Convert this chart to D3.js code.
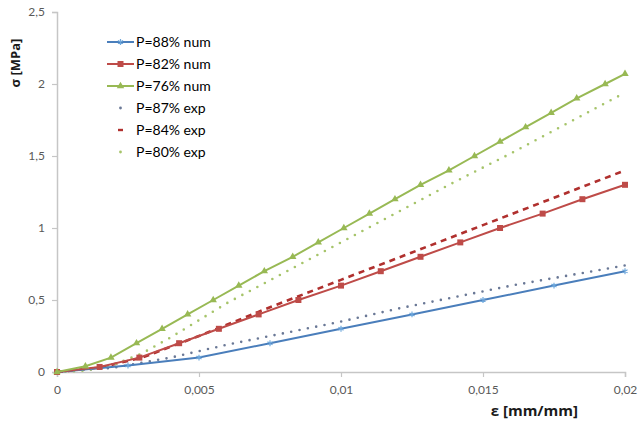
<!DOCTYPE html>
<html>
<head>
<meta charset="utf-8">
<script src="https://cdn.jsdelivr.net/npm/d3@7"></script>
<style>
  body { margin: 0; background: #fff; }
  svg { display: block; }
</style>
</head>
<body>
<svg id="chart"></svg>
<script>
// ---- data ----
const xTicks = [0, 0.005, 0.01, 0.015, 0.02];
const yTicks = [0, 0.5, 1, 1.5, 2, 2.5];

// P=88% num (blue, star markers)
const blueNumX = [0, 0.0025, 0.005, 0.0075, 0.01, 0.0125, 0.015, 0.0175, 0.02];
const blueNumY = [0, 0.045, 0.1, 0.2, 0.3, 0.4, 0.5, 0.6, 0.7];

// P=82% num (red, square markers)
const redNumX = [0, 0.0015, 0.0029, 0.0043, 0.0057, 0.0071, 0.0085, 0.0100, 0.0114, 0.0128, 0.0142, 0.0156, 0.0171, 0.0185, 0.0200];
const redNumY = [0, 0.035, 0.1, 0.2, 0.3, 0.4, 0.5, 0.6, 0.7, 0.8, 0.9, 1.0, 1.1, 1.2, 1.3];

// P=76% num (green, triangle markers)
const greenNumX = [0, 0.001, 0.0019, 0.0028, 0.0037, 0.0046, 0.0055, 0.0064, 0.0073, 0.0083, 0.0092, 0.0101,
  0.0110, 0.0119, 0.0128, 0.0138, 0.0147, 0.0156, 0.0165, 0.0174, 0.0183, 0.0193, 0.0200];
const greenNumY = [0, 0.04, 0.1, 0.2, 0.3, 0.4, 0.5, 0.6, 0.7, 0.8, 0.9, 1.0,
  1.1, 1.2, 1.3, 1.4, 1.5, 1.6, 1.7, 1.8, 1.9, 2.0, 2.07];

// P=87% exp (grey-blue dots)
const blueExpX = [0, 0.002, 0.004, 0.006, 0.008, 0.01, 0.012, 0.014, 0.016, 0.018, 0.02];
const blueExpY = [0, 0.03, 0.1, 0.19, 0.27, 0.35, 0.44, 0.52, 0.6, 0.67, 0.74];

// P=84% exp (red dashes)
const redExpX = [0, 0.0015, 0.003, 0.005, 0.0075, 0.01, 0.0125, 0.015, 0.0175, 0.02];
const redExpY = [0, 0.03, 0.1, 0.25, 0.45, 0.64, 0.83, 1.02, 1.21, 1.40];

// P=80% exp (green dots)
const greenExpX = [0, 0.001, 0.002, 0.003, 0.004, 0.006, 0.008, 0.01, 0.012, 0.014, 0.016, 0.018, 0.02];
const greenExpY = [0, 0.01, 0.05, 0.13, 0.24, 0.48, 0.69, 0.9, 1.11, 1.32, 1.52, 1.73, 1.94];

const series = [
  { name: "P=88% num", xs: blueNumX, ys: blueNumY, color: "#4a7ebb", marker: "star", kind: "num" },
  { name: "P=82% num", xs: redNumX, ys: redNumY, color: "#be4b48", marker: "square", kind: "num" },
  { name: "P=76% num", xs: greenNumX, ys: greenNumY, color: "#98b954", marker: "triangle", kind: "num" },
  { name: "P=87% exp", xs: blueExpX, ys: blueExpY, color: "#6a7896", kind: "dot" },
  { name: "P=84% exp", xs: redExpX, ys: redExpY, color: "#b0302e", kind: "dash" },
  { name: "P=80% exp", xs: greenExpX, ys: greenExpY, color: "#a6c46a", kind: "dot" }
];

const width = 638, height = 429;
const margin = { left: 57, right: 13, top: 12, bottom: 57 };

const svg = d3.select("#chart").attr("width", width).attr("height", height);

const x = d3.scaleLinear().domain([0, 0.02]).range([margin.left, width - margin.right]);
const y = d3.scaleLinear().domain([0, 2.5]).range([height - margin.bottom, margin.top]);

const fmt = d => d3.format("")(d).replace(".", ",");
const axisColor = "#c6c6c6";
const labelColor = "#595959";
const font = "Lato, 'Open Sans', sans-serif";
const boldFont = "'Open Sans', 'DejaVu Sans', sans-serif";

// x axis
const gx = svg.append("g")
  .attr("transform", `translate(0,${y(0)})`)
  .call(d3.axisBottom(x).tickValues(xTicks).tickFormat(fmt).tickSize(5).tickPadding(8));
// y axis
const gy = svg.append("g")
  .attr("transform", `translate(${x(0)},0)`)
  .call(d3.axisLeft(y).tickValues(yTicks).tickFormat(fmt).tickSize(5).tickPadding(7));

[gx, gy].forEach(g => {
  g.select(".domain").attr("stroke", axisColor).attr("stroke-width", 1.5);
  g.selectAll(".tick line").attr("stroke", axisColor).attr("stroke-width", 1.2);
  g.selectAll(".tick text").attr("fill", labelColor).style("font", `12px ${font}`);
});

// axis titles
svg.append("text")
  .attr("x", 578).attr("y", 416)
  .attr("text-anchor", "end")
  .style("font", `bold 15px ${boldFont}`).attr("fill", "#1a1a1a")
  .text("ε [mm/mm]");
svg.append("text")
  .attr("transform", "translate(20,63) rotate(-90)")
  .attr("text-anchor", "middle")
  .style("font", `bold 13px ${boldFont}`).attr("fill", "#1a1a1a")
  .text("σ [MPa]");

const line = d3.line().x(d => x(d[0])).y(d => y(d[1]));
const plot = svg.append("g");

function drawMarker(g, type, color, px, py) {
  if (type === "square") {
    g.append("rect").attr("x", px - 3).attr("y", py - 3).attr("width", 6).attr("height", 6).attr("fill", color);
  } else if (type === "triangle") {
    g.append("path").attr("d", d3.symbol(d3.symbolTriangle, 24)()).attr("transform", `translate(${px},${py})`).attr("fill", color);
  } else if (type === "star") {
    g.append("path").attr("d", d3.symbol(d3.symbolAsterisk, 24)()).attr("transform", `translate(${px},${py})`)
      .attr("stroke", "#6fa8dc").attr("stroke-width", 1.2).attr("fill", "none");
  }
}

// draw exp series first, num series on top
series.filter(s => s.kind !== "num").forEach(s => {
  const pts = s.xs.map((v, i) => [v, s.ys[i]]);
  const p = plot.append("path").datum(pts).attr("d", line).attr("fill", "none").attr("stroke", s.color);
  if (s.kind === "dot") {
    p.attr("stroke-width", 2.6).attr("stroke-linecap", "round").attr("stroke-dasharray", "0,8.5");
  } else {
    p.attr("stroke-width", 2.6).attr("stroke-dasharray", "6,5");
  }
});

series.filter(s => s.kind === "num").forEach(s => {
  const pts = s.xs.map((v, i) => [v, s.ys[i]]);
  plot.append("path").datum(pts).attr("d", line).attr("fill", "none")
    .attr("stroke", s.color).attr("stroke-width", 2);
  pts.forEach(d => drawMarker(plot, s.marker, s.color, x(d[0]), y(d[1])));
});

// legend
const legend = svg.append("g");
const legendY = [42, 64, 86, 108, 130, 152];
series.forEach((s, i) => {
  const ly = legendY[i];
  const g = legend.append("g");
  if (s.kind === "num") {
    g.append("line").attr("x1", 107).attr("x2", 134).attr("y1", ly).attr("y2", ly)
      .attr("stroke", s.color).attr("stroke-width", 2);
    drawMarker(g, s.marker, s.color, 120.5, ly);
  } else if (s.kind === "dot") {
    g.append("circle").attr("cx", 120.5).attr("cy", ly).attr("r", 1.4).attr("fill", s.color);
  } else {
    g.append("line").attr("x1", 118).attr("x2", 123).attr("y1", ly).attr("y2", ly)
      .attr("stroke", s.color).attr("stroke-width", 2.4);
  }
  g.append("text").attr("x", 136).attr("y", ly).attr("dy", "0.35em")
    .style("font", `14px ${font}`).attr("fill", "#000")
    .text(s.name);
});
</script>
</body>
</html>
